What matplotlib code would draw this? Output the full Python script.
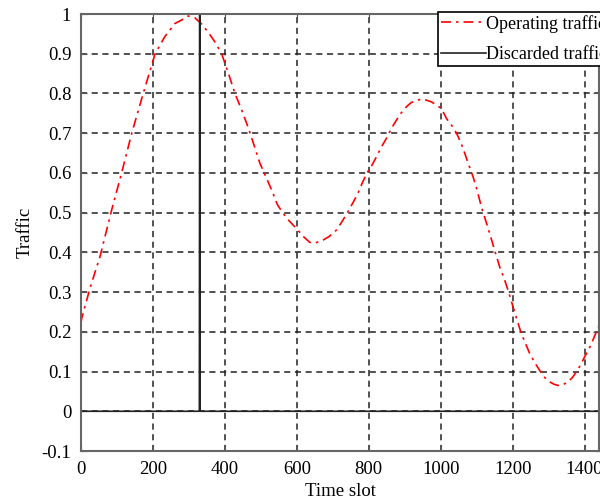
import numpy as np
import matplotlib
matplotlib.use('Agg')
from matplotlib import pyplot as plt

# operating traffic, sampled along the time axis
slot = [0, 2, 25, 53, 85, 113, 141, 173, 206, 233, 261, 280, 298, 317, 335,
        353, 372, 391, 410, 428, 446, 464, 481, 497, 514, 530, 546, 562, 580,
        599, 618, 636, 652, 673, 690, 710, 726, 742, 756, 770, 782, 795, 808,
        821, 835, 849, 863, 877, 891, 905, 918, 932, 946, 960, 974, 988, 1002,
        1016, 1030, 1044, 1056, 1067, 1078, 1090, 1100, 1113, 1125, 1136, 1150,
        1164, 1176, 1187, 1201, 1212, 1224, 1236, 1247, 1261, 1275, 1289, 1303,
        1315, 1326, 1340, 1354, 1366, 1377, 1389, 1400, 1410, 1419, 1428, 1440]
operating = [0.222, 0.234, 0.31, 0.39, 0.506, 0.60, 0.70, 0.80, 0.90, 0.943,
             0.976, 0.985, 0.995, 0.99, 0.975, 0.955, 0.93, 0.90, 0.85, 0.80,
             0.76, 0.716, 0.67, 0.625, 0.59, 0.557, 0.52, 0.498, 0.478, 0.46,
             0.44, 0.425, 0.424, 0.431, 0.44, 0.456, 0.478, 0.502, 0.525, 0.549,
             0.575, 0.60, 0.618, 0.64, 0.665, 0.687, 0.712, 0.733, 0.752, 0.767,
             0.777, 0.782, 0.786, 0.783, 0.779, 0.771, 0.762, 0.737, 0.72, 0.70,
             0.676, 0.649, 0.62, 0.59, 0.56, 0.515, 0.48, 0.448, 0.405, 0.363,
             0.335, 0.305, 0.263, 0.23, 0.196, 0.17, 0.146, 0.123, 0.103, 0.085,
             0.074, 0.068, 0.065, 0.067, 0.074, 0.085, 0.099, 0.117, 0.137,
             0.153, 0.17, 0.19, 0.215]

# discarded traffic: zero except one burst
disc_slot = [0, 329, 330, 331, 1440]
discarded = [0, 0, 1.0, 0, 0]

plt.rcParams['font.family'] = ['Liberation Serif', 'DejaVu Serif']
plt.rcParams['font.size'] = 13.5

fig = plt.figure(figsize=(6.0, 5.04), dpi=100)
ax = fig.add_axes([81 / 600., 1 - 451 / 504., 518 / 600., 437 / 504.])

ax.plot(slot, operating, color='red', lw=1.2, dashes=(6, 3, 1.5, 3),
        label='Operating traffic')
ax.plot(disc_slot, discarded, color='#222222', lw=1.2, label='Discarded traffic')

ax.set_xlim(0, 1440)
ax.set_ylim(-0.1, 1.0)
ax.set_xticks(range(0, 1401, 200))
ax.set_yticks(np.round(np.arange(-0.1, 1.01, 0.1), 1))
ax.set_yticklabels(['-0.1', '0', '0.1', '0.2', '0.3', '0.4', '0.5', '0.6',
                    '0.7', '0.8', '0.9', '1'])

ax.grid(True, color='#222222', lw=1.1, dashes=(4, 3))
ax.tick_params(direction='in', top=True, right=True, length=4,
               color='#555555', pad=7)
for s in ax.spines.values():
    s.set_color('#666666')
    s.set_linewidth(1.5)

ax.set_xlabel('Time slot', labelpad=4)
ax.set_ylabel('Traffic', labelpad=6)

leg = ax.legend(loc='upper left', bbox_to_anchor=(438 / 600., 1 - 12 / 504.),
                bbox_transform=fig.transFigure, borderaxespad=0,
                fancybox=False, edgecolor='black', framealpha=1,
                handlelength=2.5, handletextpad=0.0, borderpad=0.15,
                labelspacing=0.75, fontsize=13)
leg.get_frame().set_linewidth(1.2)

fig.savefig('out.png', dpi=100)
